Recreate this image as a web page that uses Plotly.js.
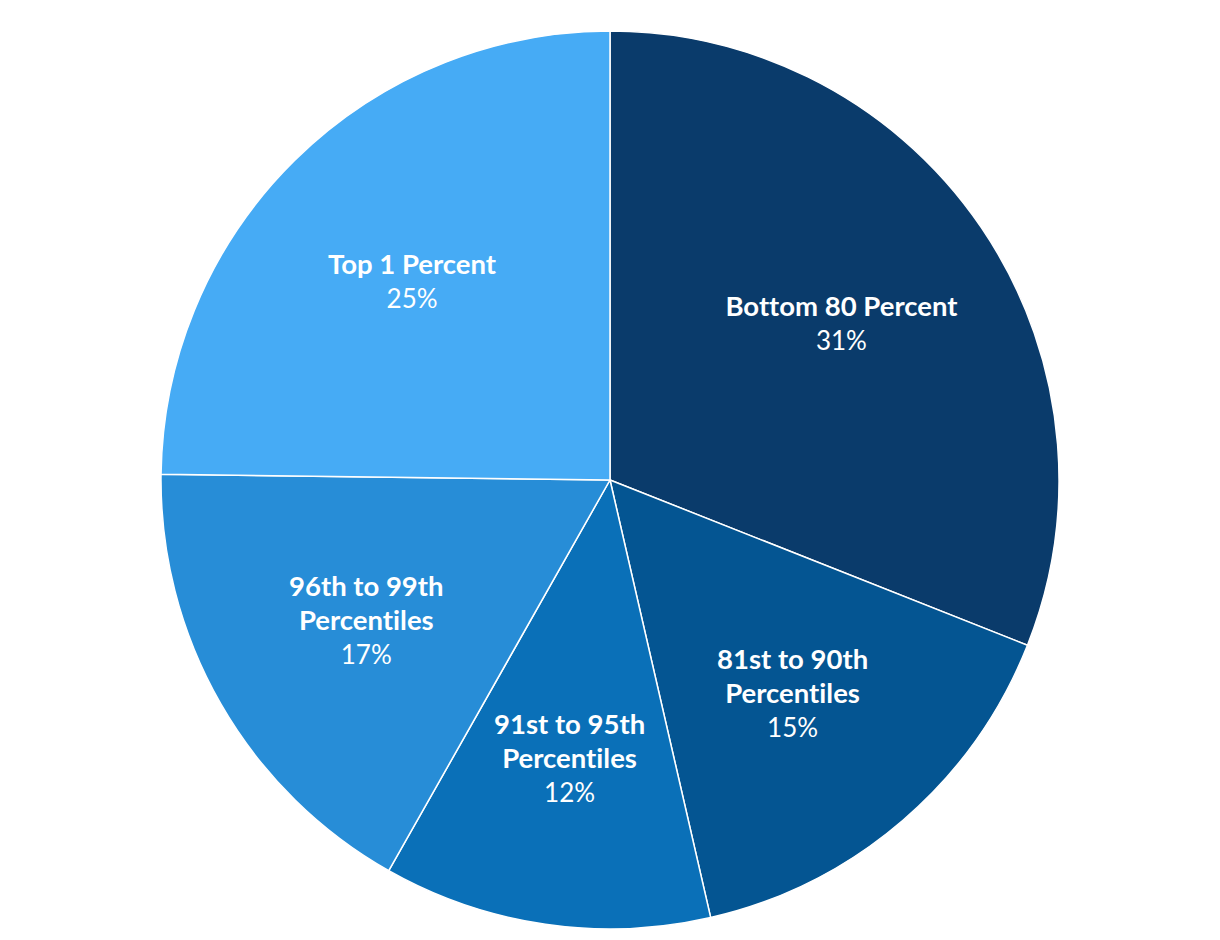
<!DOCTYPE html>
<html>
<head>
<meta charset="utf-8">
<script src="https://cdn.plot.ly/plotly-3.0.1.min.js"></script>
<style>
html,body{margin:0;padding:0;background:#fff;}
#chart{width:1220px;height:940px;}
#chart text{font-variant-ligatures:none;font-feature-settings:"liga" 0, "dlig" 0;}
</style>
</head>
<body>
<div id="chart"></div>
<script>
const categories = ["Bottom 80 Percent", "81st to 90th<br>Percentiles", "91st to 95th<br>Percentiles", "96th to 99th<br>Percentiles", "Top 1 Percent"];
const shares = [31.0, 15.4, 11.8, 17.0, 24.8];
const sliceColors = ["#0a3b6b", "#045592", "#0a70b8", "#278dd7", "#46abf5"];

const W = 1220, H = 940;
const M = {l: 0, r: 0, t: 31, b: 11};
const plotW = W - M.l - M.r, plotH = H - M.t - M.b;
const R = Math.min(plotW, plotH) / 2;
const labelRadius = 0.625 * R;

const total = shares.reduce((a, b) => a + b, 0);
let cum = 0;
const annotations = shares.map((v, i) => {
  const mid = (cum + v / 2) / total * 2 * Math.PI;
  cum += v;
  const pct = Math.round(v / total * 100);
  const lbl = categories[i].split("<br>").map(s => "<span style=\"font-size:27.5px\"><b>" + s + "</b></span>").join("<br>");
  return {
    xref: "paper", yref: "paper",
    x: 0.5 + labelRadius * Math.sin(mid) / plotW,
    y: 0.5 + labelRadius * Math.cos(mid) / plotH,
    xanchor: "center", yanchor: "middle",
    showarrow: false,
    align: "center",
    text: lbl + "<br>" + pct + "%",
    font: {family: "Lato, 'Open Sans', sans-serif", size: 26, color: "#ffffff"}
  };
});

const trace = {
  type: "pie",
  labels: categories,
  values: shares,
  sort: false,
  direction: "clockwise",
  rotation: 0,
  marker: {colors: sliceColors, line: {color: "#ffffff", width: 1.5}},
  textinfo: "none",
  hoverinfo: "label+percent",
  showlegend: false
};

const layout = {
  width: W,
  height: H,
  margin: M,
  paper_bgcolor: "#ffffff",
  showlegend: false,
  annotations: annotations
};

Plotly.newPlot("chart", [trace], layout, {displayModeBar: false, staticPlot: true});
</script>
</body>
</html>
